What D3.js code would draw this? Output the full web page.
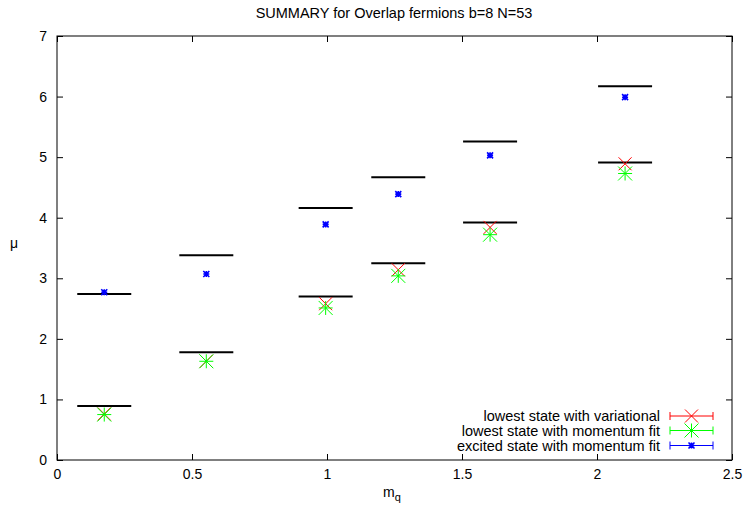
<!DOCTYPE html>
<html><head><meta charset="utf-8">
<script src="https://cdn.jsdelivr.net/npm/d3@7"></script>
<style>body{margin:0;background:#fff}svg{display:block}text{font-family:"Liberation Sans",Arial,sans-serif}</style>
</head><body><svg id="c" width="744" height="505"></svg>
<script>
const masses = [0.175, 0.553, 0.995, 1.264, 1.604, 2.104];
const barLow = [0.89, 1.78, 2.70, 3.25, 3.92, 4.91];
const barHigh = [2.74, 3.38, 4.16, 4.67, 5.26, 6.17];
const variational = [0.76, 1.63, 2.58, 3.14, 3.84, 4.89];
const momentumLow = [0.75, 1.63, 2.51, 3.04, 3.72, 4.73];
const momentumExc = [2.77, 3.07, 3.89, 4.39, 5.03, 5.99];
const xTicks = [0, 0.5, 1, 1.5, 2, 2.5];
const yTicks = [0, 1, 2, 3, 4, 5, 6, 7];
const legendLabels = ["lowest state with variational", "lowest state with momentum fit", "excited state with momentum fit"];
const colors = ["#ff0000", "#00ff00", "#0000ff"];

const svg = d3.select("#c");
const L = 57, R = 732, T = 36, B = 460;
const x = d3.scaleLinear().domain([0, 2.5]).range([L, R]);
const y = d3.scaleLinear().domain([0, 7]).range([B, T]);

// title
svg.append("text").attr("x", 394).attr("y", 18).attr("text-anchor", "middle")
  .attr("font-size", 14.5).text("SUMMARY for Overlap fermions b=8 N=53");

// frame
svg.append("rect").attr("x", L).attr("y", T).attr("width", R - L).attr("height", B - T)
  .attr("fill", "none").attr("stroke", "#000").attr("stroke-width", 1);

// axes via d3 axis (inward ticks)
const fs = 14;
const gx = svg.append("g").attr("transform", `translate(0,${B})`)
  .call(d3.axisBottom(x).tickValues(xTicks).tickSize(-6).tickPadding(9).tickFormat(d3.format("")));
const gxt = svg.append("g").attr("transform", `translate(0,${T})`)
  .call(d3.axisTop(x).tickValues(xTicks).tickSize(-6).tickFormat(""));
const gy = svg.append("g").attr("transform", `translate(${L},0)`)
  .call(d3.axisLeft(y).tickValues(yTicks).tickSize(-6).tickPadding(10).tickFormat(d3.format("")));
const gyr = svg.append("g").attr("transform", `translate(${R},0)`)
  .call(d3.axisRight(y).tickValues(yTicks).tickSize(-6).tickFormat(""));
[gx, gxt, gy, gyr].forEach(g => {
  g.select(".domain").remove();
  g.selectAll("line").attr("stroke", "#000");
  g.selectAll("text").attr("font-size", fs).attr("font-family", "Liberation Sans, Arial, sans-serif").attr("fill", "#000");
});

// axis labels
svg.append("text").attr("x", 14).attr("y", 248).attr("text-anchor", "middle").attr("font-size", 14).text("μ");
const xl = svg.append("text").attr("x", 392).attr("y", 497).attr("text-anchor", "middle").attr("font-size", 14);
xl.append("tspan").text("m");
xl.append("tspan").attr("font-size", 11).attr("dy", 4).text("q");

// black bars
const halfW = 0.1;
const bars = [];
masses.forEach((m, i) => { bars.push([m, barLow[i]]); bars.push([m, barHigh[i]]); });
svg.append("g").selectAll("line").data(bars).join("line")
  .attr("x1", d => x(d[0] - halfW)).attr("x2", d => x(d[0] + halfW))
  .attr("y1", d => y(d[1])).attr("y2", d => y(d[1]))
  .attr("stroke", "#000").attr("stroke-width", 2);

// marker drawers
function drawX(g, cx, cy, s, c, w) {
  g.append("path").attr("d", `M${cx-s},${cy-s}L${cx+s},${cy+s}M${cx-s},${cy+s}L${cx+s},${cy-s}`)
    .attr("stroke", c).attr("stroke-width", w || 1).attr("fill", "none");
}
function drawStar(g, cx, cy, s, c, w) {
  g.append("path").attr("d", `M${cx-s},${cy-s}L${cx+s},${cy+s}M${cx-s},${cy+s}L${cx+s},${cy-s}M${cx-s},${cy}L${cx+s},${cy}M${cx},${cy-s}L${cx},${cy+s}`)
    .attr("stroke", c).attr("stroke-width", w || 1).attr("fill", "none");
}
const pts = svg.append("g");
masses.forEach((m, i) => drawX(pts, x(m), y(variational[i]), 6.5, colors[0]));
masses.forEach((m, i) => drawStar(pts, x(m), y(momentumLow[i]), 7, colors[1]));
masses.forEach((m, i) => drawStar(pts, x(m), y(momentumExc[i]), 3, colors[2], 1.6));

// legend
const leg = svg.append("g");
const lys = [416, 430.5, 445.5];
legendLabels.forEach((t, i) => {
  leg.append("text").attr("x", 660).attr("y", lys[i] + 5).attr("text-anchor", "end").attr("font-size", 14.5).text(t);
  leg.append("path").attr("d", `M670,${lys[i]}L713,${lys[i]}M670,${lys[i]-4}L670,${lys[i]+4}M713,${lys[i]-4}L713,${lys[i]+4}`)
    .attr("stroke", colors[i]).attr("stroke-width", 1).attr("fill", "none");
});
drawX(leg, 691.5, lys[0], 6.5, colors[0]);
drawStar(leg, 691.5, lys[1], 7, colors[1]);
drawStar(leg, 691.5, lys[2], 3, colors[2], 1.6);
</script></body></html>
